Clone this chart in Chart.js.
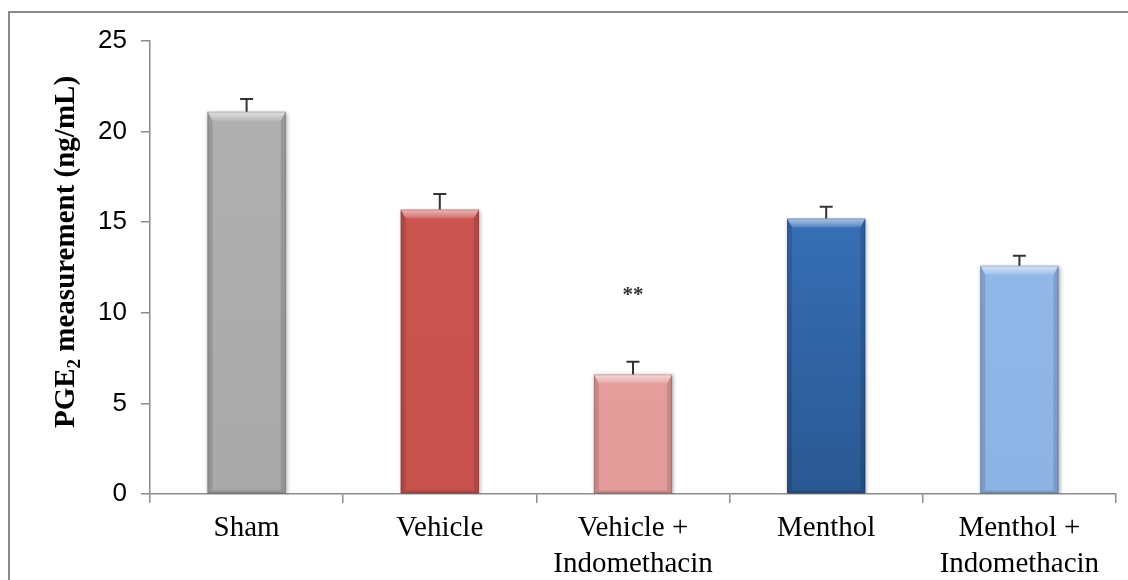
<!DOCTYPE html>
<html>
<head>
<meta charset="utf-8">
<script src="https://cdn.jsdelivr.net/npm/chart.js@4.4.1/dist/chart.umd.min.js"></script>
<style>
  html, body { margin: 0; padding: 0; background: #ffffff; overflow: hidden; }
  #wrap { width: 1128px; height: 580px; position: relative; }
</style>
</head>
<body>
<div id="wrap"><canvas id="c" width="1128" height="580"></canvas></div>
<script>
// Treatment groups (multi-line category labels)
const groups = [
  ['Sham'],
  ['Vehicle'],
  ['Vehicle +', 'Indomethacin'],
  ['Menthol'],
  ['Menthol +', 'Indomethacin']
];
// PGE2 level per group (ng/mL) and its upper error
const pgeMeans  = [21.1, 15.7, 6.6, 15.2, 12.6];
const pgeErrors = [0.7, 0.85, 0.7, 0.65, 0.55];
// Significance marks above each group
const significance = ['', '', '**', '', ''];
// Y axis range and step
const yRange = [0, 25];
const yStep = 5;

// Bar fills: top and bottom of a vertical gradient
const fillTop    = ['#b1b1b1', '#cd5653', '#e8a3a1', '#3f7dcd', '#97bdee'];
const fillBottom = ['#a9a9a9', '#c8514e', '#e39b99', '#2a5892', '#8db2e4'];

const frame = {
  id: 'frame',
  beforeDraw(chart) {
    const ctx = chart.ctx;
    ctx.save();
    ctx.strokeStyle = '#8a8a8a';
    ctx.lineWidth = 2;
    ctx.beginPath();
    ctx.moveTo(9, 600);
    ctx.lineTo(9, 12);
    ctx.lineTo(1140, 12);
    ctx.stroke();
    ctx.restore();
  }
};

const barShadow = {
  id: 'barShadow',
  beforeDatasetDraw(chart) {
    const ctx = chart.ctx;
    ctx.save();
    ctx.shadowColor = 'rgba(0,0,0,0.35)';
    ctx.shadowBlur = 4;
    ctx.shadowOffsetX = 1;
    ctx.shadowOffsetY = 1;
  },
  afterDatasetDraw(chart) {
    chart.ctx.restore();
  }
};

const bevel = {
  id: 'bevel',
  afterDatasetsDraw(chart) {
    const ctx = chart.ctx;
    const meta = chart.getDatasetMeta(0);
    const yScale = chart.scales.y;
    meta.data.forEach((bar, i) => {
      const p = bar.getProps(['x', 'y', 'base', 'width'], true);
      const l = p.x - p.width / 2, r = p.x + p.width / 2, t = p.y, b = p.base;
      const bv = 9, sd = 5;
      ctx.save();
      // darker side and bottom edges
      ctx.fillStyle = 'rgba(0,0,0,0.13)';
      ctx.beginPath();
      ctx.moveTo(l, t); ctx.lineTo(l + sd, t + bv); ctx.lineTo(l + sd, b - 3); ctx.lineTo(l, b); ctx.closePath(); ctx.fill();
      ctx.beginPath();
      ctx.moveTo(r, t); ctx.lineTo(r - sd, t + bv); ctx.lineTo(r - sd, b - 3); ctx.lineTo(r, b); ctx.closePath(); ctx.fill();
      ctx.fillStyle = 'rgba(0,0,0,0.10)';
      ctx.beginPath();
      ctx.moveTo(l, b); ctx.lineTo(l + sd, b - 3); ctx.lineTo(r - sd, b - 3); ctx.lineTo(r, b); ctx.closePath(); ctx.fill();
      // light top bevel
      const g = ctx.createLinearGradient(0, t, 0, t + bv);
      g.addColorStop(0, 'rgba(255,255,255,0.6)');
      g.addColorStop(0.5, 'rgba(255,255,255,0.38)');
      g.addColorStop(1, 'rgba(255,255,255,0.12)');
      ctx.fillStyle = g;
      ctx.beginPath();
      ctx.moveTo(l, t); ctx.lineTo(r, t); ctx.lineTo(r - sd, t + bv); ctx.lineTo(l + sd, t + bv); ctx.closePath(); ctx.fill();
      ctx.strokeStyle = 'rgba(0,0,0,0.18)';
      ctx.lineWidth = 1;
      ctx.strokeRect(l + 0.5, t + 0.5, p.width - 1, b - t - 1);
      ctx.restore();

      // upper error whisker
      const yTop = yScale.getPixelForValue(pgeMeans[i] + pgeErrors[i]);
      ctx.save();
      ctx.strokeStyle = '#333333';
      ctx.lineWidth = 2;
      ctx.beginPath();
      ctx.moveTo(p.x, t);
      ctx.lineTo(p.x, yTop);
      ctx.moveTo(p.x - 6.5, yTop);
      ctx.lineTo(p.x + 6.5, yTop);
      ctx.stroke();
      ctx.restore();

      // significance mark
      if (significance[i]) {
        ctx.save();
        ctx.fillStyle = '#333333';
        ctx.font = 'bold 21px "Liberation Serif", "Times New Roman", serif';
        ctx.textAlign = 'center';
        ctx.textBaseline = 'middle';
        ctx.fillText(significance[i], p.x, yTop - 66);
        ctx.restore();
      }
    });
  }
};

const yTitle = {
  id: 'yTitle',
  afterDraw(chart) {
    const ctx = chart.ctx;
    const big = 'bold 29px "Liberation Serif", "Times New Roman", serif';
    const small = 'bold 19px "Liberation Serif", "Times New Roman", serif';
    const a = 'PGE', sub = '2', rest = ' measurement (ng/mL)';
    ctx.save();
    ctx.translate(67, 252);
    ctx.rotate(-Math.PI / 2);
    ctx.fillStyle = '#000000';
    ctx.textBaseline = 'middle';
    ctx.font = big;
    const wa = ctx.measureText(a).width, wr = ctx.measureText(rest).width;
    ctx.font = small;
    const ws = ctx.measureText(sub).width;
    let x = -(wa + ws + wr) / 2;
    ctx.textAlign = 'left';
    ctx.font = big;
    ctx.fillText(a, x, 0); x += wa;
    ctx.font = small;
    ctx.fillText(sub, x, 8); x += ws;
    ctx.font = big;
    ctx.fillText(rest, x, 0);
    ctx.restore();
  }
};

const ctx = document.getElementById('c').getContext('2d');
new Chart(ctx, {
  type: 'bar',
  data: {
    labels: groups,
    datasets: [{
      data: pgeMeans,
      backgroundColor: (c) => {
        const area = c.chart.chartArea;
        if (!area) return fillTop[c.dataIndex];
        const g = c.chart.ctx.createLinearGradient(0, area.top, 0, area.bottom);
        g.addColorStop(0, fillTop[c.dataIndex]);
        g.addColorStop(1, fillBottom[c.dataIndex]);
        return g;
      },
      borderWidth: 0,
      barPercentage: 0.405,
      categoryPercentage: 1.0
    }]
  },
  options: {
    responsive: false,
    animation: false,
    devicePixelRatio: 1,
    layout: { padding: { left: 0, right: 12, top: 41, bottom: 0 } },
    plugins: { legend: { display: false }, tooltip: { enabled: false } },
    scales: {
      x: {
        offset: true,
        grid: { display: true, offset: true, drawOnChartArea: false, drawTicks: true, tickLength: 9, color: '#8c8c8c', lineWidth: 1.5 },
        border: { display: true, color: '#8c8c8c', width: 1.5 },
        ticks: {
          color: '#000000',
          padding: 8,
          maxRotation: 0,
          autoSkip: false,
          font: { family: '"Liberation Serif", "Times New Roman", serif', size: 29, lineHeight: 1.22 }
        },
        afterFit(s) { s.height = 86; }
      },
      y: {
        min: yRange[0],
        max: yRange[1],
        grid: { display: true, drawOnChartArea: false, drawTicks: true, tickLength: 9, color: '#8c8c8c', lineWidth: 1.5 },
        border: { display: true, color: '#8c8c8c', width: 1.5 },
        ticks: {
          stepSize: yStep,
          color: '#000000',
          padding: 14,
          font: { family: '"Liberation Sans", Arial, sans-serif', size: 26 }
        },
        afterFit(s) { s.width = 150; }
      }
    }
  },
  plugins: [frame, barShadow, bevel, yTitle]
});
</script>
</body>
</html>
